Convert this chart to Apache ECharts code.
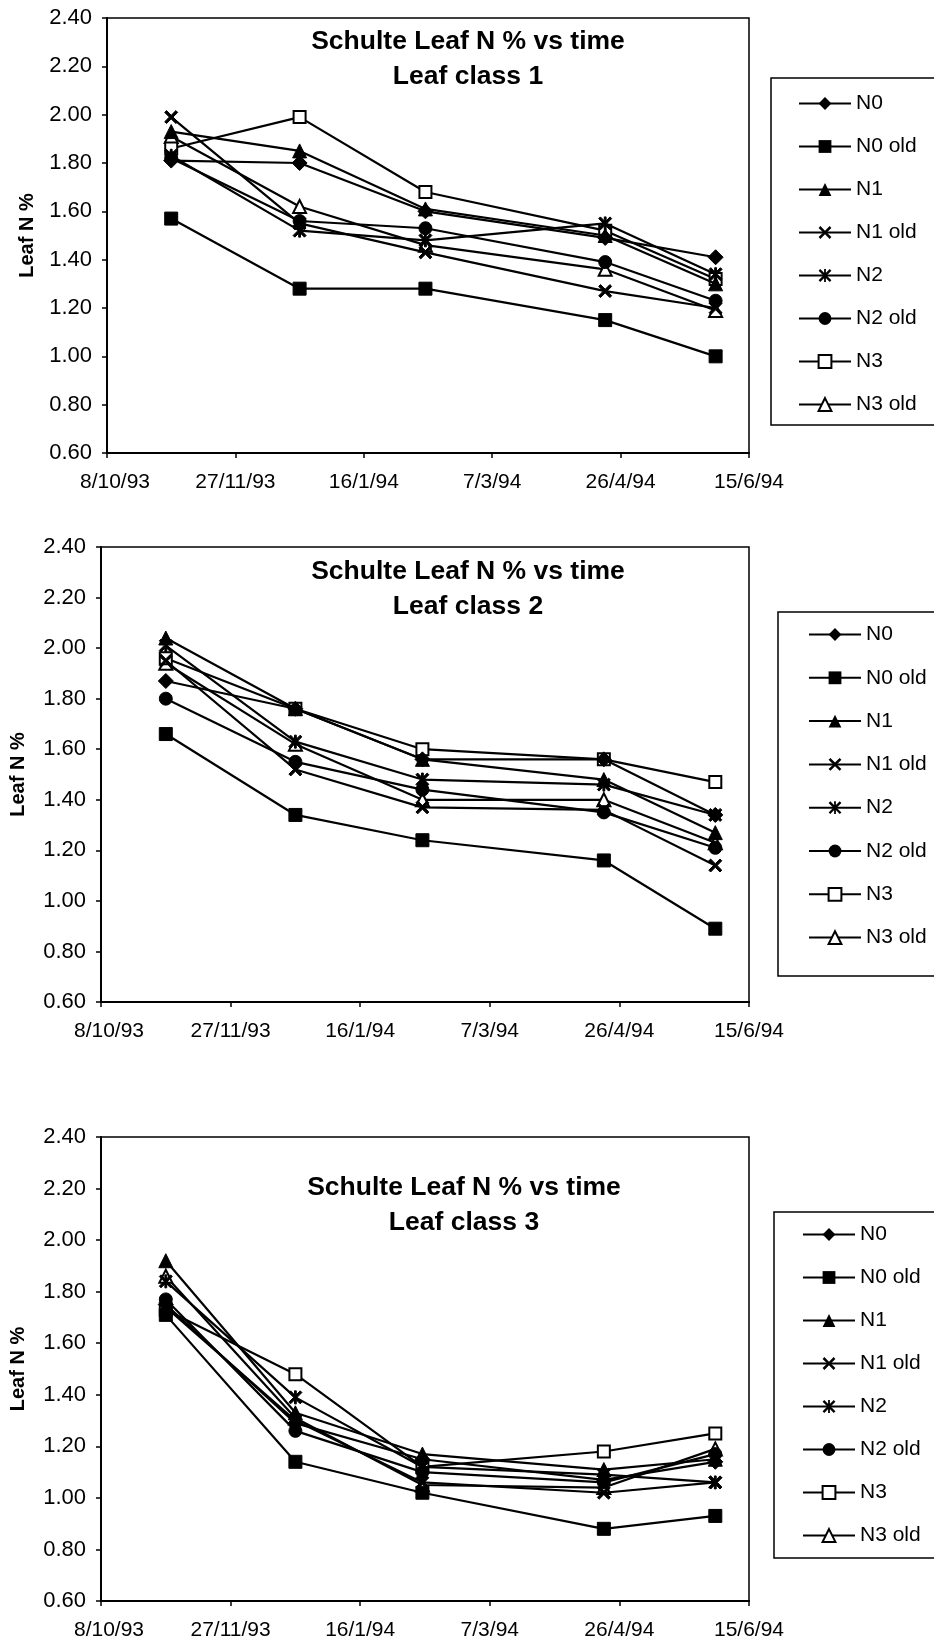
<!DOCTYPE html>
<html>
<head>
<meta charset="utf-8">
<script src="https://cdn.jsdelivr.net/npm/echarts@6/dist/echarts.min.js"></script>
<style>
  html, body { margin: 0; padding: 0; background: #fff; }
  #chart { width: 934px; height: 1646px; }
</style>
</head>
<body>
<div id="chart"></div>
<script>
// sampling dates (same for all three leaf classes)
const dates = ['1993-11-02', '1993-12-22', '1994-02-09', '1994-04-20', '1994-06-02']
const names = ['N0', 'N0 old', 'N1', 'N1 old', 'N2', 'N2 old', 'N3', 'N3 old']

// x axis: days counted from 8/10/93, tick every 50 days up to 15/6/94
const xStart = '1993-10-08'
const xMaxDays = 250
const xStepDays = 50

// Leaf class 1
const c1N0    = [1.81, 1.80, 1.60, 1.49, 1.41]
const c1N0old = [1.57, 1.28, 1.28, 1.15, 1.00]
const c1N1    = [1.93, 1.85, 1.61, 1.50, 1.30]
const c1N1old = [1.99, 1.55, 1.43, 1.27, 1.20]
const c1N2    = [1.83, 1.52, 1.48, 1.55, 1.34]
const c1N2old = [1.82, 1.56, 1.53, 1.39, 1.23]
const c1N3    = [1.86, 1.99, 1.68, 1.52, 1.32]
const c1N3old = [1.91, 1.62, 1.46, 1.36, 1.19]

// Leaf class 2
const c2N0    = [1.87, 1.76, 1.56, 1.56, 1.34]
const c2N0old = [1.66, 1.34, 1.24, 1.16, 0.89]
const c2N1    = [2.04, 1.76, 1.56, 1.48, 1.27]
const c2N1old = [1.95, 1.52, 1.37, 1.36, 1.14]
const c2N2    = [2.01, 1.63, 1.48, 1.46, 1.34]
const c2N2old = [1.80, 1.55, 1.44, 1.35, 1.21]
const c2N3    = [1.96, 1.76, 1.60, 1.56, 1.47]
const c2N3old = [1.94, 1.62, 1.40, 1.40, 1.23]

// Leaf class 3
const c3N0    = [1.75, 1.29, 1.15, 1.07, 1.14]
const c3N0old = [1.71, 1.14, 1.02, 0.88, 0.93]
const c3N1    = [1.92, 1.33, 1.17, 1.11, 1.15]
const c3N1old = [1.74, 1.30, 1.06, 1.02, 1.06]
const c3N2    = [1.84, 1.39, 1.12, 1.09, 1.06]
const c3N2old = [1.77, 1.26, 1.10, 1.06, 1.17]
const c3N3    = [1.73, 1.48, 1.12, 1.18, 1.25]
const c3N3old = [1.86, 1.31, 1.05, 1.04, 1.19]

const classes = [
  [c1N0, c1N0old, c1N1, c1N1old, c1N2, c1N2old, c1N3, c1N3old],
  [c2N0, c2N0old, c2N1, c2N1old, c2N2, c2N2old, c2N3, c2N3old],
  [c3N0, c3N0old, c3N1, c3N1old, c3N2, c3N2old, c3N3, c3N3old]
]

const FONT = '"Liberation Sans", Arial, sans-serif'
const DAY = 86400000
const t0 = Date.parse(xStart + 'T00:00:00Z')
const toDays = (d) => Math.round((Date.parse(d + 'T00:00:00Z') - t0) / DAY)
const fmtDate = (v) => {
  const d = new Date(t0 + v * DAY)
  const s = d.getUTCDate() + '/' + (d.getUTCMonth() + 1) + '/' + String(d.getUTCFullYear()).slice(2)
  // Excel nudges the first label inside the plot
  return v === 0 ? '{first|' + s + '}' : s
}

const CROSS = 'path://M0,1.4L1.4,0L5,3.6L8.6,0L10,1.4L6.4,5L10,8.6L8.6,10L5,6.4L1.4,10L0,8.6L3.6,5Z'
const STAR = 'path://M0,1.3L1.3,0L5,3.7L8.7,0L10,1.3L6.3,5L10,8.7L8.7,10L5,6.3L1.3,10L0,8.7L3.7,5Z M4.3,0L5.7,0L5.7,10L4.3,10Z'
// open markers sit under the filled ones, like the overlapping blobs in the scan
const markers = [
  { symbol: 'diamond', size: 15, z: 6 },
  { symbol: 'rect', size: 13, z: 7 },
  { symbol: 'triangle', size: 14, z: 8 },
  { symbol: CROSS, size: 13, z: 5 },
  { symbol: STAR, size: 13, z: 4 },
  { symbol: 'circle', size: 13, z: 9 },
  { symbol: 'emptyRect', size: 12, z: 3 },
  { symbol: 'emptyTriangle', size: 13, z: 2 }
]

// panel placement
const panels = [
  { left: 107, top: 18, height: 435, title: [463, 19], yName: 70, legend: { left: 771, top: 78, padding: [15, 20, 10, 27], gap: 22 } },
  { left: 101, top: 547, height: 455, title: [463, 549], yName: 73, legend: { left: 778, top: 612, padding: [12, 20, 28, 30], gap: 22.3 } },
  { left: 101, top: 1137, height: 464, title: [459, 1165], yName: 73, legend: { left: 774, top: 1212, padding: [12, 20, 12, 28], gap: 22 } }
]

const chart = echarts.init(document.getElementById('chart'))

const grid = [], xAxis = [], yAxis = [], title = [], legend = [], series = []
panels.forEach((p, k) => {
  grid.push({
    left: p.left, top: p.top, width: 749 - p.left, height: p.height,
    show: true, borderColor: '#000', borderWidth: 1.5, backgroundColor: '#fff'
  })
  xAxis.push({
    type: 'value', gridIndex: k, min: 0, max: xMaxDays, interval: xStepDays,
    axisLine: { onZero: false, lineStyle: { color: '#000', width: 2 } },
    axisTick: { show: true, length: 5, lineStyle: { color: '#000', width: 1.5 } },
    axisLabel: {
      color: '#000', fontSize: 21, fontFamily: FONT, margin: 19, formatter: fmtDate,
      rich: { first: { color: '#000', fontSize: 21, fontFamily: FONT, padding: [0, 0, 0, 16] } }
    },
    splitLine: { show: false }
  })
  yAxis.push({
    type: 'value', gridIndex: k, min: 0.6, max: 2.4, interval: 0.2,
    name: 'Leaf N %', nameLocation: 'middle', nameRotate: 90, nameGap: p.yName,
    nameMoveOverlap: false,
    nameTextStyle: { color: '#000', fontSize: 20, fontWeight: 'bold', fontFamily: FONT },
    axisLine: { show: true, lineStyle: { color: '#000', width: 2 } },
    axisTick: { show: true, length: 5, lineStyle: { color: '#000', width: 1.5 } },
    axisLabel: { color: '#000', fontSize: 22, fontFamily: FONT, margin: 15, formatter: (v) => v.toFixed(2) },
    splitLine: { show: false }
  })
  title.push({
    text: 'Schulte Leaf N % vs time\nLeaf class ' + (k + 1),
    left: p.title[0], top: p.title[1], textAlign: 'center',
    textStyle: { color: '#000', fontSize: 26.5, fontWeight: 'bold', fontFamily: FONT, lineHeight: 35 }
  })
  legend.push({
    data: names, orient: 'vertical', left: p.legend.left, top: p.legend.top,
    padding: p.legend.padding, itemGap: p.legend.gap, itemWidth: 52, itemHeight: 16,
    borderColor: '#000', borderWidth: 1.5, backgroundColor: '#fff',
    selectedMode: false,
    textStyle: { color: '#000', fontSize: 21, fontFamily: FONT }
  })
  classes[k].forEach((vals, i) => {
    series.push({
      name: names[i], type: 'line', xAxisIndex: k, yAxisIndex: k,
      data: dates.map((d, j) => [toDays(d), vals[j]]),
      symbol: markers[i].symbol, symbolSize: markers[i].size,
      itemStyle: { color: '#000', borderColor: '#000' },
      lineStyle: { color: '#000', width: 2.2 },
      emphasis: { disabled: true },
      z: markers[i].z
    })
  })
})

chart.setOption({
  animation: false,
  backgroundColor: '#fff',
  title, grid, xAxis, yAxis, legend, series
})
</script>
</body>
</html>
